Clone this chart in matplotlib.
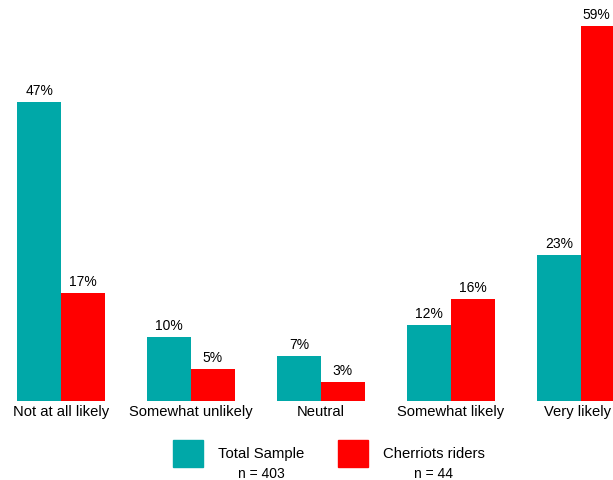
import matplotlib
matplotlib.use("Agg")
import matplotlib.pyplot as plt
from matplotlib.patches import Rectangle
from matplotlib.transforms import ScaledTranslation

plt.rcParams['font.family'] = ['Liberation Sans', 'DejaVu Sans']

categories = ["Not at all likely", "Somewhat unlikely", "Neutral", "Somewhat likely", "Very likely"]
total_sample = [47, 10, 7, 12, 23]
cherriots = [17, 5, 3, 16, 59]
series_names = ["Total Sample", "Cherriots riders"]
sample_sizes = ["n = 403", "n = 44"]

TEAL = "#00a8a8"
RED = "#ff0000"

fig = plt.figure(figsize=(6.13, 4.8), dpi=100)
ax = fig.add_axes([0, 79 / 480, 1, 401 / 480])

w = 0.335
x = range(len(categories))
b1 = ax.bar([i - w / 2 for i in x], total_sample, w, color=TEAL)
b2 = ax.bar([i + w / 2 for i in x], cherriots, w, color=RED)

for bars, vals in ((b1, total_sample), (b2, cherriots)):
    for k, (rect, v) in enumerate(zip(bars, vals)):
        # last red bar sits on the right edge, so shift its label inward
        dx = -5 if (bars is b2 and k == len(vals) - 1) else 0
        ax.annotate(f"{v}%", (rect.get_x() + rect.get_width() / 2, v),
                    xytext=(dx, 3), textcoords="offset points",
                    ha="center", va="bottom", fontsize=10)

ax.set_xlim(-61 / 130, (613 - 61) / 130)
ax.set_ylim(0, 401 / 6.36)
ax.set_xticks(list(x))
ax.set_xticklabels(categories, fontsize=10.6)
ax.tick_params(axis="x", length=0, pad=3)
# nudge the last label left so it stays inside the right edge
last = ax.get_xticklabels()[-1]
last.set_transform(last.get_transform() + ScaledTranslation(-0.04, 0, fig.dpi_scale_trans))
ax.set_yticks([])
for s in ax.spines.values():
    s.set_visible(False)

# legend drawn by hand: swatch, name, and sample size centred under the name
for left, color, name, n in ((173, TEAL, series_names[0], sample_sizes[0]),
                             (338, RED, series_names[1], sample_sizes[1])):
    fig.add_artist(Rectangle((left / 613, 13 / 480), 30 / 613, 27 / 480,
                             transform=fig.transFigure, color=color))
    t = fig.text((left + 45) / 613, 26 / 480, name, fontsize=10.7, va="center", ha="left")
    fig.canvas.draw()
    bb = t.get_window_extent()
    fig.text((bb.x0 + bb.x1) / 2 / 613, 6 / 480, n, fontsize=10, va="center", ha="center")

fig.savefig("out.png", dpi=100)
